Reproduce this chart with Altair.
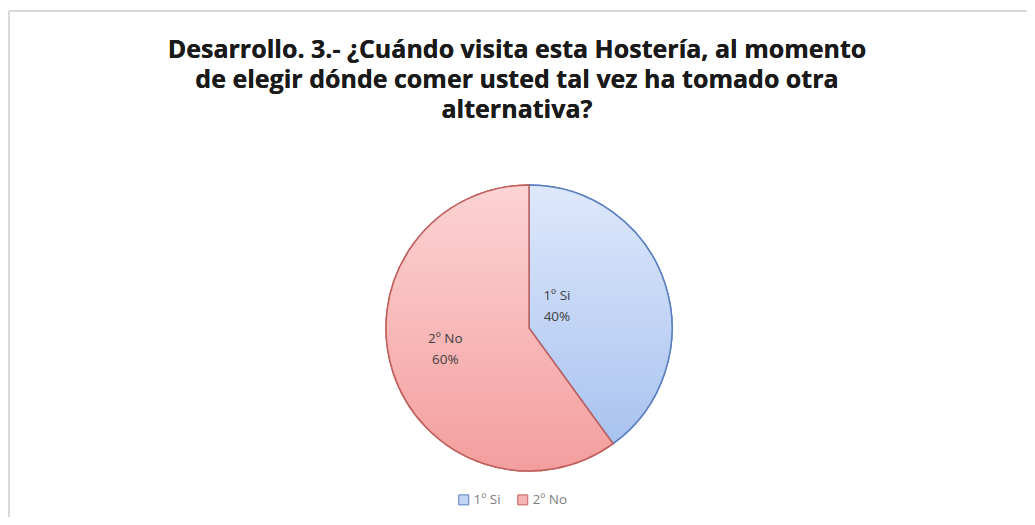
import altair as alt
import pandas as pd

categories = ["1º Si", "2º No"]
values = [40, 60]
percent_labels = ["40%", "60%"]
flat_fill = ["#c3d5f5", "#f6b3b3"]
edge_colors = ["#5b7fbf", "#c0605d"]
title_lines = ["Desarrollo. 3.- ¿Cuándo visita esta Hostería, al momento",
               "de elegir dónde comer usted tal vez ha tomado otra",
               "alternativa?"]

df = pd.DataFrame({
    "cat": categories,
    "val": values,
    "pct": percent_labels,
})
df["label"] = df["cat"] + "\n" + df["pct"]

W, H = 400, 300
L, T = 321, 170
R = 1019 - L - W
B = 509 - T - H
OX, OY = 8 + L, 8 + T  # page coords of plot origin
RAD = 143

grad_si = alt.LinearGradient(
    gradient="linear", x1=0, y1=0, x2=0, y2=1,
    stops=[alt.GradientStop(color="#dde8fb", offset=0),
           alt.GradientStop(color="#a9c3ef", offset=1)])
grad_no = alt.LinearGradient(
    gradient="linear", x1=0, y1=0, x2=0, y2=1,
    stops=[alt.GradientStop(color="#fcd3d3", offset=0),
           alt.GradientStop(color="#f49e9e", offset=1)])

base = alt.Chart(df)

legend_kw = dict(title=None, orient="none",
                 legendX=457 - OX, legendY=493 - OY,
                 direction="horizontal", symbolType="square",
                 symbolSize=100, symbolStrokeWidth=1,
                 labelFont="Open Sans", labelFontSize=13.5,
                 labelColor="#7f7f7f", columnPadding=14,
                 labelOffset=3)

arcs_legend = base.mark_arc(outerRadius=RAD, strokeWidth=1.5).encode(
    theta=alt.Theta("val:Q", stack=True),
    order=alt.Order("cat:N"),
    fill=alt.Fill("cat:N", scale=alt.Scale(domain=categories, range=flat_fill),
                  legend=alt.Legend(**legend_kw)),
    stroke=alt.Stroke("cat:N", scale=alt.Scale(domain=categories, range=edge_colors),
                      legend=alt.Legend(**legend_kw)),
)

arcs_grad = base.mark_arc(outerRadius=RAD, strokeWidth=1.5).encode(
    theta=alt.Theta("val:Q", stack=True),
    order=alt.Order("cat:N"),
    fill=alt.condition(alt.datum.cat == categories[0], alt.value(grad_si), alt.value(grad_no)),
    stroke=alt.condition(alt.datum.cat == categories[0], alt.value(edge_colors[0]), alt.value(edge_colors[1])),
)

text_base = base.transform_window(
    cum="sum(val)", sort=[alt.SortField("cat")]
).transform_calculate(
    mid="datum.cum - datum.val / 2"
)

def label_layer(cat, r, dx, dy):
    return text_base.transform_filter(alt.datum.cat == cat).mark_text(
        font="Open Sans", fontSize=13.5, color="#404040",
        lineBreak="\n", lineHeight=21, baseline="middle", radius=r, dx=dx, dy=dy
    ).encode(
        theta=alt.Theta("mid:Q", stack=None, scale=alt.Scale(domain=[0, sum(values)], range=[0, 6.283185307179586])),
        text="label:N",
    )

lab_si = label_layer(categories[0], 42, -12, -19)
lab_no = label_layer(categories[1], 88, 0, -16)

frame_top = base.mark_rule(color="#d9d9d9", strokeWidth=2).encode(
    x=alt.value(9 - OX), x2=alt.value(1040 - OX), y=alt.value(11 - OY))
frame_left = base.mark_rule(color="#d9d9d9", strokeWidth=2).encode(
    x=alt.value(9 - OX), y=alt.value(11 - OY), y2=alt.value(530 - OY))

title = base.mark_text(font="Open Sans", fontSize=25, fontWeight="bold", color="#1a1a1a",
                       lineHeight=30, align="center", baseline="alphabetic").encode(
    x=alt.value(517 - OX), y=alt.value(58 - OY), text=alt.value(title_lines))

chart = alt.layer(frame_top, frame_left, title, arcs_legend, arcs_grad, lab_si, lab_no).properties(
    width=W, height=H,
    padding={"left": L, "top": T, "right": R, "bottom": B},
    autosize=alt.AutoSizeParams(type="none"),
).configure_view(stroke=None).resolve_scale(theta="independent")

chart.save("out.html", embed_options={"renderer": "svg", "actions": False})
